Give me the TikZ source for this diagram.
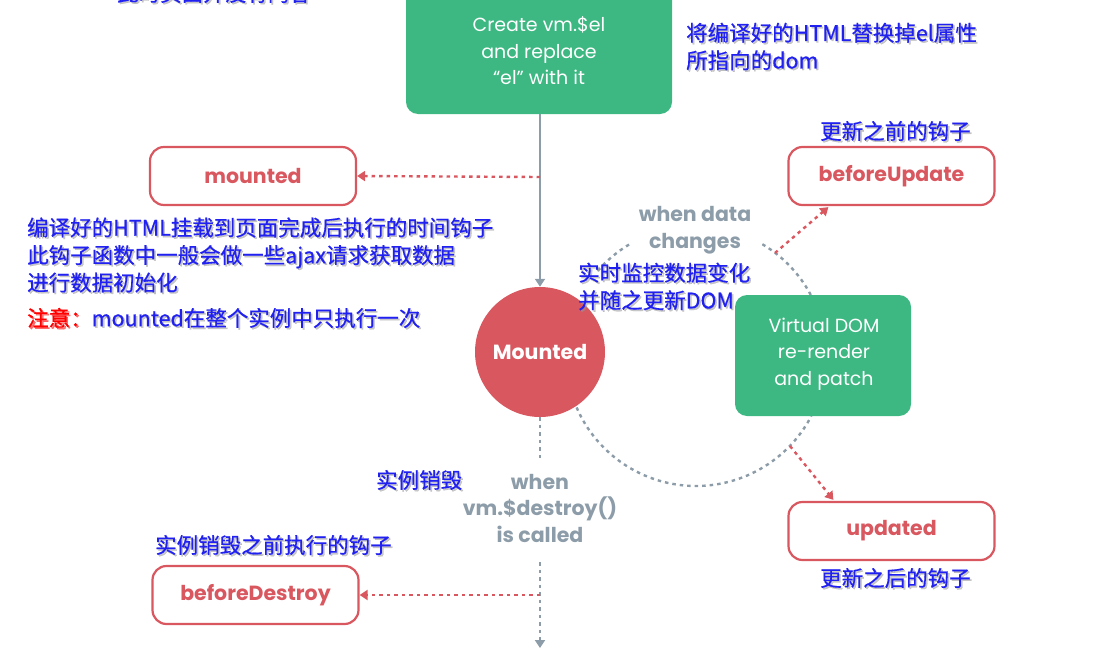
\documentclass[tikz,border=0pt]{standalone}
\usepackage{fontspec}
\usetikzlibrary{arrows.meta,calc}
\newfontfamily\pop{Poppins}
\newfontfamily\cjk[FakeBold=0.6]{Noto Sans CJK SC}
\definecolor{vgreen}{HTML}{3DB882}
\definecolor{vred}{HTML}{D9575F}
\definecolor{vgray}{HTML}{8C9CA8}
\definecolor{nblue}{HTML}{2020F0}
\newcommand\notetext[3]{%
  \node[note,text=black!40,opacity=.55] at ($(#2)+(1.6,1.6)$) {#3};
  \node[note] (#1) at (#2) {#3};}
\tikzset{
  greenbox/.style={fill=vgreen,rounded corners=12pt,inner sep=0},
  greentext/.style={text=white,font=\pop\fontsize{19}{26.5}\selectfont,align=center,inner sep=0},
  hookbox/.style={draw=vred,line width=2.2pt,fill=white,rounded corners=14pt,minimum width=206,minimum height=58,text=vred,font=\pop\bfseries\fontsize{20.5}{24}\selectfont},
  graytext/.style={text=vgray,font=\pop\bfseries\fontsize{20.5}{26.5}\selectfont,align=center,inner sep=0},
  note/.style={text=nblue,font=\cjk\fontsize{21.5}{27.5}\selectfont,align=left,anchor=west,inner sep=0},
  graydot/.style={draw=vgray,line width=2.4pt,dash pattern=on 3.5pt off 4pt},
  reddot/.style={draw=vred,line width=2.4pt,dash pattern=on 3.5pt off 4pt},
  tip/.style={-{Triangle[width=10pt,length=8pt]}},
}
\begin{document}
\begin{tikzpicture}[x=1pt,y=-1pt]
\useasboundingbox (0,0) rectangle (1104,648);
\clip (0,0) rectangle (1104,648);
% cycle arcs
\draw[graydot] plot[domain=121:140,samples=20] ({696+130*cos(\x)},{356-130*sin(\x)});
\draw[graydot] plot[domain=28:60,samples=30] ({696+130*cos(\x)},{356-130*sin(\x)});
\draw[graydot] plot[domain=-160:-27.5,samples=80] ({696+130*cos(\x)},{356-130*sin(\x)});
% boxes
\node[greenbox,minimum width=266,minimum height=140] (create) at (539,44) {};
\node[greentext] (createtxt) at (539,51) {Create vm.\$el\\and replace\\“el” with it};
\node[circle,fill=vred,minimum size=130,inner sep=0,text=white,font=\pop\bfseries\fontsize{20.5}{24}\selectfont] (mc) at (540,352) {Mounted};
\node[greenbox,minimum width=176,minimum height=121] (vdom) at (823,355.5) {};
\node[greentext] (vdomtxt) at (824,354) {Virtual DOM\\re-render\\and patch};
\node[hookbox] (mounted) at (253,176) {mounted};
\node[hookbox] (bu) at (891.5,176) {beforeUpdate};
\node[hookbox] (up) at (891.5,531) {updated};
\node[hookbox] (bd) at (255.5,595) {beforeDestroy};
\node[graytext] (wdc) at (695,230) {when data\\changes};
\node[graytext] (wdes) at (540,508) {when\\vm.\$destroy()\\is called};
% connectors
\draw[draw=vgray,line width=2.2pt,tip,color=vgray] (create.south -| mc.north) -- (mc.north);
\coordinate (m1) at (540,177);
\draw[reddot,tip,color=vred] (m1) -- (mounted.east);
\coordinate (cu) at (775,253);
\draw[reddot,tip,color=vred] (cu) -- ($(bu.south west)+(41,1)$);
\coordinate (cd) at (790,446);
\draw[reddot,tip,color=vred] (cd) -- ($(up.north west)+(46,-1)$);
\coordinate (d1) at (540,458);
\coordinate (d2) at (540,562);
\coordinate (d3) at (540,648);
\draw[graydot] (mc.south) -- (d1);
\draw[graydot,tip,color=vgray] (d2) -- (d3);
\coordinate (b1) at (540,595);
\draw[reddot,tip,color=vred] (b1) -- (bd.east);
% notes
\notetext{n0}{117,-7}{此时页面并没有内容}
\notetext{n1}{686,46.5}{将编译好的HTML替换掉el属性\\所指向的dom}
\notetext{n2}{820,131}{更新之前的钩子}
\notetext{n3}{27,255}{编译好的HTML挂载到页面完成后执行的时间钩子\\此钩子函数中一般会做一些ajax请求获取数据\\进行数据初始化}
\notetext{n4}{27,318}{{\color{red}注意：}mounted在整个实例中只执行一次}
\notetext{n5}{578,286.5}{实时监控数据变化\\并随之更新DOM}
\notetext{n6}{376,480}{实例销毁}
\notetext{n7}{155,545}{实例销毁之前执行的钩子}
\notetext{n8}{820,578}{更新之后的钩子}
\end{tikzpicture}
\end{document}
